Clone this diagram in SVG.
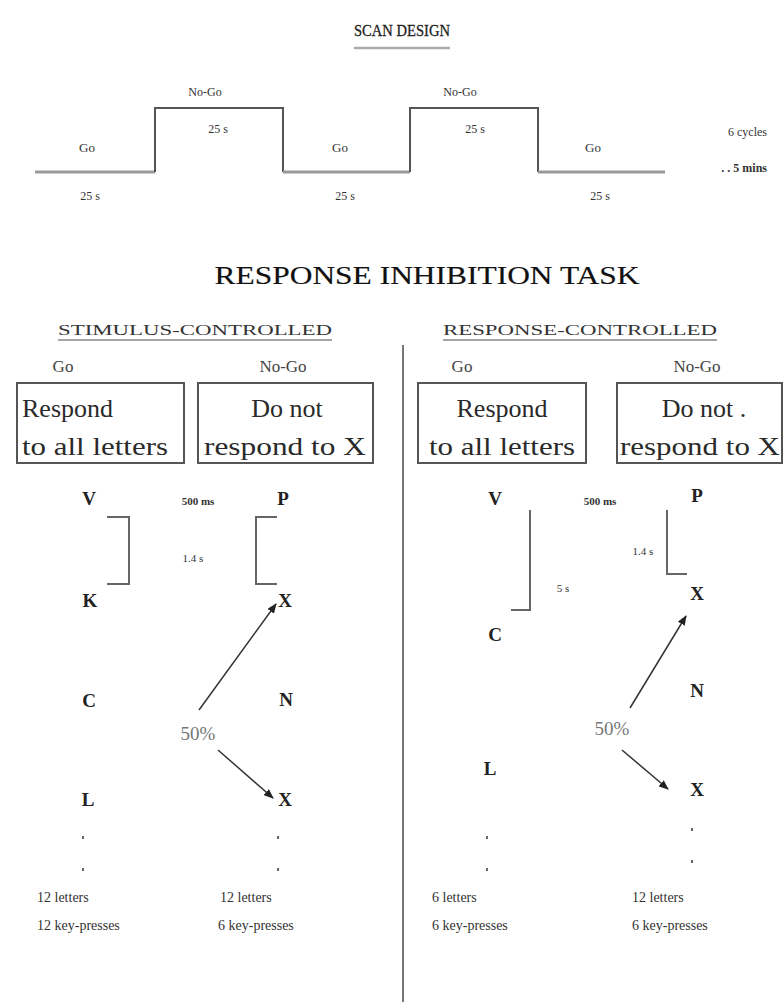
<svg xmlns="http://www.w3.org/2000/svg" width="784" height="1002" viewBox="0 0 784 1002">
<defs>
<marker id="ah" markerWidth="10" markerHeight="8" refX="9" refY="4" orient="auto" markerUnits="userSpaceOnUse">
<path d="M0,0 L10,4 L0,8 Z" fill="#222"/>
</marker>
<style>
text{font-family:"Liberation Serif","Times New Roman",serif;fill:#222}
.title{font-size:25px;fill:#111;stroke:#111;stroke-width:0.15}
.sub{font-size:14px;fill:#333}
.hd{font-size:17px;fill:#444}
.box{fill:#fff;stroke:#555;stroke-width:2}
.bt{font-size:26px;fill:#2a2a2a}
.let{font-size:19px;font-weight:bold;fill:#222}
.sm{font-size:11px;fill:#333}
.pct{font-size:19px;fill:#777}
.cnt{font-size:14px;fill:#333}
.wv{font-size:12px;fill:#333}
.ln{fill:none;stroke:#666;stroke-width:2}
.arr{stroke:#333;stroke-width:1.5;marker-end:url(#ah)}
.dot{fill:#666}
</style>
</defs>
<rect width="784" height="1002" fill="#fff"/>

<g id="scan-design">
<text x="402" y="36" text-anchor="middle" style="font-size:17px;stroke:#222;stroke-width:0.3" textLength="96" lengthAdjust="spacingAndGlyphs">SCAN DESIGN</text>
<line x1="354" y1="48" x2="450" y2="48" stroke="#aaa" stroke-width="2.5"/>
<path d="M35,172 H155" stroke="#999" stroke-width="3" fill="none"/>
<path d="M155,172 V108 H283 V172" stroke="#555" stroke-width="2" fill="none"/>
<path d="M283,172 H410" stroke="#999" stroke-width="3" fill="none"/>
<path d="M410,172 V108 H538 V172" stroke="#555" stroke-width="2" fill="none"/>
<path d="M538,172 H665" stroke="#999" stroke-width="3" fill="none"/>
<text class="wv" x="205" y="96" text-anchor="middle">No-Go</text>
<text class="wv" x="460" y="96" text-anchor="middle">No-Go</text>
<text class="wv" x="218" y="133" text-anchor="middle">25 s</text>
<text class="wv" x="475" y="133" text-anchor="middle">25 s</text>
<text class="wv" x="87" y="152" text-anchor="middle" style="font-size:13px">Go</text>
<text class="wv" x="340" y="152" text-anchor="middle" style="font-size:13px">Go</text>
<text class="wv" x="593" y="152" text-anchor="middle" style="font-size:13px">Go</text>
<text class="wv" x="90" y="200" text-anchor="middle">25 s</text>
<text class="wv" x="345" y="200" text-anchor="middle">25 s</text>
<text class="wv" x="600" y="200" text-anchor="middle">25 s</text>
<text class="wv" x="767" y="136" text-anchor="end">6 cycles</text>
<text class="wv" x="767" y="172" text-anchor="end" font-weight="bold">. . 5 mins</text>
</g>

<g id="task-title">
<text class="title" x="427" y="284" text-anchor="middle" textLength="425" lengthAdjust="spacingAndGlyphs">RESPONSE INHIBITION TASK</text>
</g>

<line id="divider" x1="403" y1="345" x2="403" y2="1002" stroke="#777" stroke-width="2"/>

<g id="stimulus-controlled">
<text class="sub" x="195" y="335" text-anchor="middle" textLength="274" lengthAdjust="spacingAndGlyphs">STIMULUS-CONTROLLED</text>
<line x1="58" y1="340" x2="332" y2="340" stroke="#888" stroke-width="1.5"/>
<text class="hd" x="63" y="372" text-anchor="middle">Go</text>
<text class="hd" x="283" y="372" text-anchor="middle">No-Go</text>
</g>
<g id="sc-go-box">
<rect class="box" x="17" y="383" width="167" height="80"/>
<text class="bt" x="22" y="417">Respond</text>
<text class="bt" x="22" y="455" textLength="146" lengthAdjust="spacingAndGlyphs">to all letters</text>
</g>
<g id="sc-nogo-box">
<rect class="box" x="198" y="383" width="175" height="80"/>
<text class="bt" x="287" y="417" text-anchor="middle">Do not</text>
<text class="bt" x="285" y="455" text-anchor="middle" textLength="162" lengthAdjust="spacingAndGlyphs">respond to X</text>
</g>
<g id="sc-sequence">
<text class="let" x="89" y="505" text-anchor="middle">V</text>
<text class="let" x="283" y="505" text-anchor="middle">P</text>
<text class="sm" x="198" y="505" text-anchor="middle" font-weight="bold">500 ms</text>
<path class="ln" d="M107,517 H129 V584 H107"/>
<path class="ln" d="M277,517 H256 V584 H277"/>
<text class="sm" x="193" y="562" text-anchor="middle">1.4 s</text>
<text class="let" x="90" y="607" text-anchor="middle">K</text>
<text class="let" x="285" y="607" text-anchor="middle">X</text>
<text class="let" x="89" y="707" text-anchor="middle">C</text>
<text class="let" x="286" y="706" text-anchor="middle">N</text>
<text class="pct" x="198" y="740" text-anchor="middle">50%</text>
<text class="let" x="88" y="806" text-anchor="middle">L</text>
<text class="let" x="285" y="806" text-anchor="middle">X</text>
<rect class="dot" x="82" y="836" width="2" height="3"/>
<rect class="dot" x="82" y="868" width="2" height="3"/>
<rect class="dot" x="277" y="836" width="2" height="3"/>
<rect class="dot" x="277" y="868" width="2" height="3"/>
<text class="cnt" x="37" y="902">12 letters</text>
<text class="cnt" x="37" y="930">12 key-presses</text>
<text class="cnt" x="220" y="902">12 letters</text>
<text class="cnt" x="218" y="930">6 key-presses</text>
</g>

<g id="response-controlled">
<text class="sub" x="580" y="335" text-anchor="middle" textLength="274" lengthAdjust="spacingAndGlyphs">RESPONSE-CONTROLLED</text>
<line x1="443" y1="340" x2="717" y2="340" stroke="#888" stroke-width="1.5"/>
<text class="hd" x="462" y="372" text-anchor="middle">Go</text>
<text class="hd" x="697" y="372" text-anchor="middle">No-Go</text>
</g>
<g id="rc-go-box">
<rect class="box" x="418" y="383" width="168" height="80"/>
<text class="bt" x="502" y="417" text-anchor="middle">Respond</text>
<text class="bt" x="502" y="455" text-anchor="middle" textLength="146" lengthAdjust="spacingAndGlyphs">to all letters</text>
</g>
<g id="rc-nogo-box">
<rect class="box" x="617" y="383" width="165" height="80"/>
<text class="bt" x="704" y="417" text-anchor="middle">Do not .</text>
<text class="bt" x="700" y="455" text-anchor="middle" textLength="160" lengthAdjust="spacingAndGlyphs">respond to X</text>
</g>
<g id="rc-sequence">
<text class="let" x="495" y="505" text-anchor="middle">V</text>
<text class="let" x="697" y="502" text-anchor="middle">P</text>
<text class="sm" x="600" y="505" text-anchor="middle" font-weight="bold">500 ms</text>
<path class="ln" d="M530,510 V610 H511" stroke="#aaa"/>
<text class="sm" x="563" y="592" text-anchor="middle">5 s</text>
<path class="ln" d="M667,510 V574 H687" stroke="#aaa"/>
<text class="sm" x="643" y="555" text-anchor="middle">1.4 s</text>
<text class="let" x="697" y="600" text-anchor="middle">X</text>
<text class="let" x="495" y="641" text-anchor="middle">C</text>
<text class="let" x="697" y="697" text-anchor="middle">N</text>
<text class="pct" x="612" y="735" text-anchor="middle">50%</text>
<text class="let" x="490" y="775" text-anchor="middle">L</text>
<text class="let" x="697" y="796" text-anchor="middle">X</text>
<rect class="dot" x="486" y="836" width="2" height="3"/>
<rect class="dot" x="486" y="868" width="2" height="3"/>
<rect class="dot" x="691" y="828" width="2" height="3"/>
<rect class="dot" x="691" y="860" width="2" height="3"/>
<text class="cnt" x="432" y="902">6  letters</text>
<text class="cnt" x="432" y="930">6  key-presses</text>
<text class="cnt" x="632" y="902">12 letters</text>
<text class="cnt" x="632" y="930">6 key-presses</text>
</g>

<g id="connectors">
<line class="arr" x1="199" y1="710" x2="276" y2="604"/>
<line class="arr" x1="218" y1="750" x2="273" y2="798"/>
<line class="arr" x1="630" y1="708" x2="686" y2="616"/>
<line class="arr" x1="622" y1="750" x2="668" y2="789"/>
</g>
</svg>
